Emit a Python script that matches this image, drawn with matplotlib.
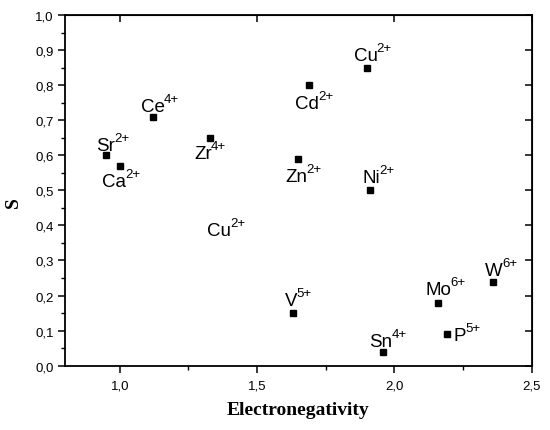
import matplotlib
matplotlib.use('Agg')
import matplotlib.pyplot as plt
from matplotlib.ticker import MultipleLocator, FuncFormatter

plt.rcParams['font.family'] = 'Liberation Sans'

ions = ['Sr', 'Ca', 'Ce', 'Zr', 'Cu', 'Cd', 'Zn', 'Ni', 'V', 'Sn', 'Mo', 'P', 'W']
charges = ['2+', '2+', '4+', '4+', '2+', '2+', '2+', '2+', '5+', '4+', '6+', '5+', '6+']
electroneg = [0.95, 1.00, 1.12, 1.33, 1.90, 1.69, 1.65, 1.91, 1.63, 1.96, 2.16, 2.19, 2.36]
s_values = [0.60, 0.57, 0.71, 0.65, 0.85, 0.80, 0.59, 0.50, 0.15, 0.04, 0.18, 0.09, 0.24]

# label offsets from the point (pixels)
label_dx = [-10, -18, -12, -16, -13, -14, -13, -7, -8, -14, -13, 7, -8]
label_dy = [5, -20, 6, -20, 8, -23, -22, 8, 8, 6, 9, -6, 7]

# stray label without a point
extra_label = 'Cu'
extra_charge = '2+'
extra_pos = (1.318, 0.3735)

fig = plt.figure(figsize=(5.5, 4.31), dpi=100)
ax = fig.add_axes([0.118, 0.1492, 0.8487, 0.8137])

ax.plot(electroneg, s_values, 's', color='black', markersize=4.3, linestyle='none')


def ion_label(txt, charge):
    # charge as small superscript right after the symbol
    ax.annotate(charge, xy=(1, 0), xycoords=txt, xytext=(-1, 13),
                textcoords='offset pixels', ha='left', va='baseline', fontsize=9.5)


for i in range(len(ions)):
    t = ax.annotate(ions[i], (electroneg[i], s_values[i]),
                    xytext=(label_dx[i], label_dy[i]), textcoords='offset pixels',
                    ha='left', va='baseline', fontsize=13.5)
    ion_label(t, charges[i])
t = ax.text(extra_pos[0], extra_pos[1], extra_label, ha='left', va='baseline', fontsize=13.5)
ion_label(t, extra_charge)

ax.set_xlim(0.8, 2.5)
ax.set_ylim(0, 1.0)
ax.xaxis.set_major_locator(MultipleLocator(0.5))
ax.xaxis.set_minor_locator(MultipleLocator(0.25))
ax.yaxis.set_major_locator(MultipleLocator(0.1))
ax.yaxis.set_minor_locator(MultipleLocator(0.05))
fmt = FuncFormatter(lambda v, p: ('%.1f' % v).replace('.', ','))
ax.xaxis.set_major_formatter(fmt)
ax.yaxis.set_major_formatter(fmt)

for sp in ax.spines.values():
    sp.set_linewidth(1.3)
ax.tick_params(which='major', direction='out', length=5, width=1.1, labelsize=9.5)
ax.tick_params(which='minor', direction='out', length=3, width=1.0)
ax.tick_params(axis='x', which='major', pad=5)
ax.tick_params(axis='y', which='major', pad=3)

top = ax.secondary_xaxis('top')
top.xaxis.set_major_locator(MultipleLocator(0.5))
top.tick_params(direction='in', length=5, width=1.1, labeltop=False)
right = ax.secondary_yaxis('right')
right.yaxis.set_major_locator(MultipleLocator(0.1))
right.tick_params(direction='in', length=5, width=1.1, labelright=False)

ax.set_xlabel('Electronegativity', family='Liberation Serif', fontweight='bold', fontsize=14, labelpad=7)
ax.set_ylabel('S', family='Liberation Serif', fontweight='bold', fontsize=14)
ax.yaxis.set_label_coords(-0.092, 0.467)

fig.savefig('out.png', dpi=100)
